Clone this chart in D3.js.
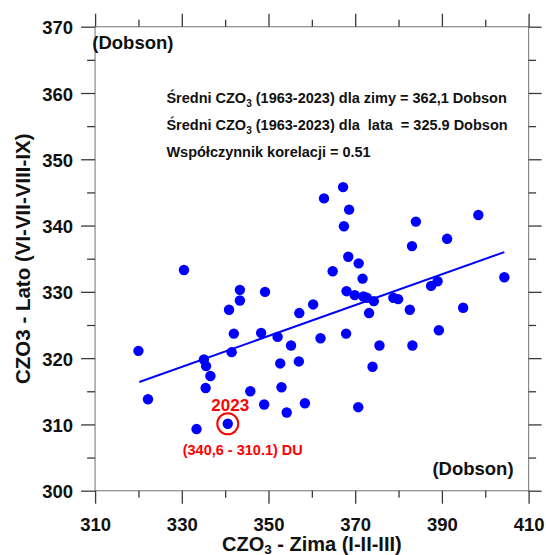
<!DOCTYPE html>
<html>
<head>
<meta charset="utf-8">
<script src="https://cdn.jsdelivr.net/npm/d3@7"></script>
<style>
  html, body { margin: 0; padding: 0; background: #fff; }
  svg { display: block; }
  text { font-family: "Liberation Sans", Arial, Helvetica, sans-serif; font-weight: bold; }
</style>
</head>
<body>
<svg id="chart" width="546" height="555"></svg>
<script>
// ---- data ----
const winterCZO3 = [367.2, 362.8, 368.6, 367.4, 398.4, 384.0, 391.2, 383.1, 330.5, 368.4,
                    370.8, 364.8, 371.7, 404.4, 389.0, 387.5, 343.4, 349.2, 368.0, 369.9,
                    371.9, 372.7, 374.3, 378.8, 379.9, 343.4, 340.9, 360.3, 394.9, 382.6,
                    357.1, 373.2, 342.0, 348.3, 352.1, 367.9, 389.3, 362.0, 355.2, 375.6,
                    383.2, 320.0, 341.5, 335.1, 335.6, 352.7, 357.0, 374.0, 336.6, 322.2,
                    335.5, 345.8, 353.0, 349.0, 358.4, 354.2, 370.7, 333.4, 340.6];
const summerCZO3 = [345.8, 344.1, 342.4, 339.9, 341.6, 340.6, 338.0, 336.9, 333.3, 335.3,
                    334.3, 333.1, 332.0, 332.2, 331.6, 330.9, 330.3, 330.0, 330.1, 329.5,
                    329.3, 329.1, 328.6, 329.1, 328.9, 328.7, 327.3, 328.1, 327.6, 327.3,
                    326.8, 326.8, 323.7, 323.8, 323.2, 323.7, 324.2, 323.0, 321.9, 321.9,
                    321.9, 321.1, 320.9, 319.8, 318.8, 319.2, 319.5, 318.7, 317.3, 313.8,
                    315.5, 315.0, 315.6, 313.0, 313.2, 311.8, 312.6, 309.3, 310.1];
const trendWinter = [320.2, 404.4];
const trendSummer = [316.4, 336.0];
const highlightYear = "2023";
const highlightWinter = 340.6;
const highlightSummer = 310.1;
const highlightLabel = "(340,6 - 310.1) DU";
const xMajorTicks = [310, 330, 350, 370, 390, 410];
const xMinorTicks = [320, 340, 360, 380, 400];
const yMajorTicks = [300, 310, 320, 330, 340, 350, 360, 370];
const yMinorTicks = [305, 315, 325, 335, 345, 355, 365];
const xDomain = [310, 410];
const yDomain = [300, 370];
const infoLines = [
  ["Średni CZO", "3", " (1963-2023) dla zimy = 362,1 Dobson"],
  ["Średni CZO", "3", " (1963-2023) dla  lata  = 325.9 Dobson"],
  ["Współczynnik korelacji = 0.51", "", ""]
];
const unitLabel = "(Dobson)";
const xTitle = ["CZO", "3", " - Zima (I-II-III)"];
const yTitle = "CZO3 - Lato (VI-VII-VIII-IX)";

// ---- layout ----
const svg = d3.select("#chart");
const L = 95.1, R = 528.6, T = 26.7, B = 490.7;
const x = d3.scaleLinear().domain(xDomain).range([L, R]);
const y = d3.scaleLinear().domain(yDomain).range([B, T]);
const frameColor = "#8a8a8a", tickColor = "#3a3a3a";

// frame
svg.append("rect").attr("x", L).attr("y", T).attr("width", R - L).attr("height", B - T)
  .attr("fill", "none").attr("stroke", frameColor).attr("stroke-width", 1.2);

function styleAxis(g, withLabels) {
  g.select(".domain").remove();
  g.selectAll(".tick line").attr("stroke", tickColor).attr("stroke-width", 1.3);
  if (withLabels) {
    g.selectAll(".tick text").attr("fill", "#111").style("font-size", "18.5px")
      .style("font-family", "'Liberation Sans', Arial, sans-serif").style("font-weight", "bold");
  } else {
    g.selectAll(".tick text").remove();
  }
}

// bottom
svg.append("g").attr("transform", `translate(0,${B})`)
  .call(d3.axisBottom(x).tickValues(xMajorTicks).tickSize(13).tickPadding(14).tickFormat(d3.format("d")))
  .call(g => styleAxis(g, true));
svg.append("g").attr("transform", `translate(0,${B})`)
  .call(d3.axisBottom(x).tickValues(xMinorTicks).tickSize(7)).call(g => styleAxis(g, false));
// top
svg.append("g").attr("transform", `translate(0,${T})`)
  .call(d3.axisTop(x).tickValues(xMajorTicks).tickSize(13)).call(g => styleAxis(g, false));
svg.append("g").attr("transform", `translate(0,${T})`)
  .call(d3.axisTop(x).tickValues(xMinorTicks).tickSize(7)).call(g => styleAxis(g, false));
// left
const yl = svg.append("g").attr("transform", `translate(${L},0)`)
  .call(d3.axisLeft(y).tickValues(yMajorTicks).tickSize(14).tickPadding(8).tickFormat(d3.format("d")))
  .call(g => styleAxis(g, true));
yl.selectAll(".tick text").attr("dy", "0.38em");
svg.append("g").attr("transform", `translate(${L},0)`)
  .call(d3.axisLeft(y).tickValues(yMinorTicks).tickSize(8)).call(g => styleAxis(g, false));
// right
svg.append("g").attr("transform", `translate(${R},0)`)
  .call(d3.axisRight(y).tickValues(yMajorTicks).tickSize(13)).call(g => styleAxis(g, false));
svg.append("g").attr("transform", `translate(${R},0)`)
  .call(d3.axisRight(y).tickValues(yMinorTicks).tickSize(7.5)).call(g => styleAxis(g, false));

// trend line
svg.append("line")
  .attr("x1", x(trendWinter[0])).attr("y1", y(trendSummer[0]))
  .attr("x2", x(trendWinter[1])).attr("y2", y(trendSummer[1]))
  .attr("stroke", "#0000ff").attr("stroke-width", 2);

// points
const pts = d3.zip(winterCZO3, summerCZO3);
svg.append("g").selectAll("circle").data(pts).join("circle")
  .attr("cx", d => x(d[0])).attr("cy", d => y(d[1])).attr("r", 5.2)
  .attr("fill", "#0000ff");

// highlight 2023
const hx = x(highlightWinter), hy = y(highlightSummer);
svg.append("circle").attr("cx", hx).attr("cy", hy).attr("r", 10.5)
  .attr("fill", "none").attr("stroke", "#ff0000").attr("stroke-width", 2);
svg.append("text").attr("x", hx + 2.5).attr("y", hy - 12.8)
  .attr("text-anchor", "middle").attr("fill", "#ff0000").style("font-size", "17px")
  .text(highlightYear);
svg.append("text").attr("x", hx + 15).attr("y", hy + 31.5)
  .attr("text-anchor", "middle").attr("fill", "#ff0000").style("font-size", "14.5px")
  .text(highlightLabel);

// unit labels
svg.append("text").attr("x", 92.3).attr("y", 49).attr("fill", "#111")
  .style("font-size", "18.5px").text(unitLabel);
svg.append("text").attr("x", 513.6).attr("y", 475).attr("text-anchor", "end").attr("fill", "#111")
  .style("font-size", "18.5px").text(unitLabel);

// info block
const baselines = [103.3, 130, 156.7];
infoLines.forEach((parts, i) => {
  const t = svg.append("text").attr("x", 166.4).attr("y", baselines[i]).attr("fill", "#111")
    .style("font-size", "14.5px").attr("xml:space", "preserve").style("white-space", "pre");
  t.append("tspan").text(parts[0]);
  if (parts[1]) {
    t.append("tspan").attr("dy", 4).style("font-size", "10px").text(parts[1]);
    t.append("tspan").attr("dy", -4).text(parts[2]);
  }
});

// x title
const xt = svg.append("text").attr("x", (L + R) / 2).attr("y", 550.5)
  .attr("text-anchor", "middle").attr("fill", "#111").style("font-size", "20px");
xt.append("tspan").text(xTitle[0]);
xt.append("tspan").attr("dy", 3).style("font-size", "13.5px").text(xTitle[1]);
xt.append("tspan").attr("dy", -3).text(xTitle[2]);

// y title
svg.append("text").attr("transform", `translate(29.6,${(T + B) / 2}) rotate(-90)`)
  .attr("text-anchor", "middle").attr("fill", "#111").style("font-size", "20.5px")
  .text(yTitle);
</script>
</body>
</html>
